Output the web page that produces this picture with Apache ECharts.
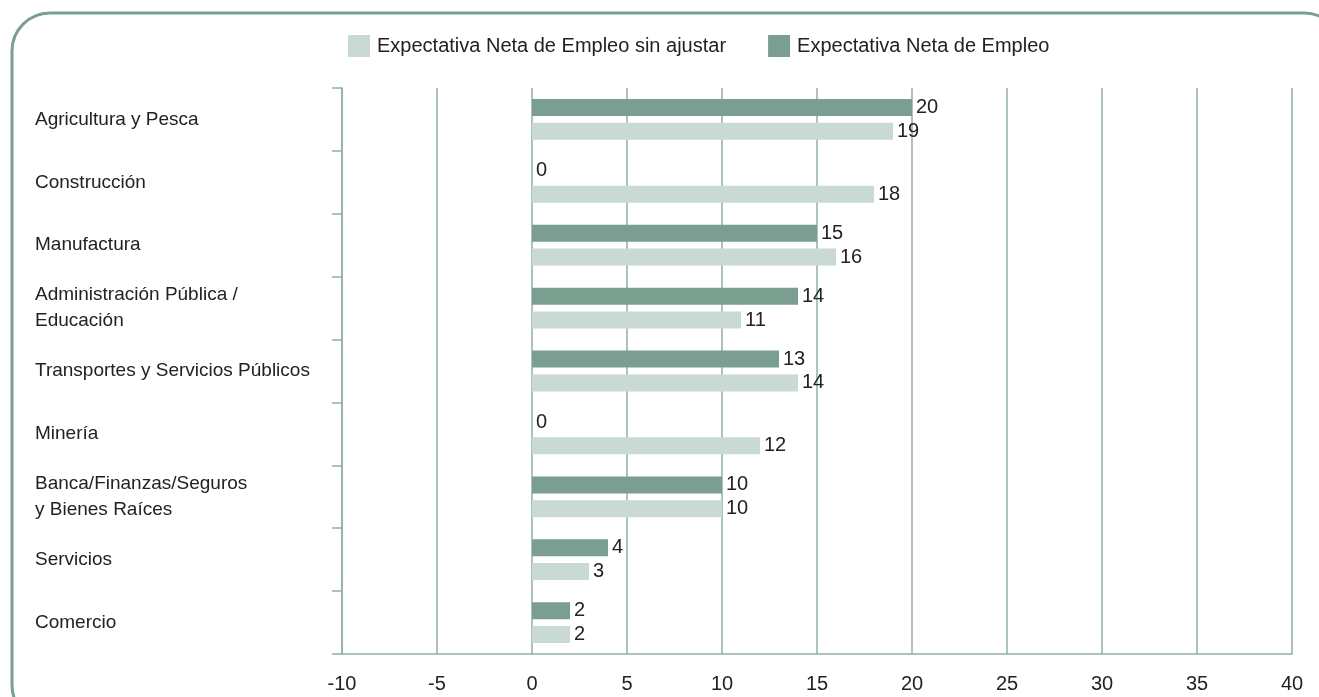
<!DOCTYPE html>
<html>
<head>
<meta charset="utf-8">
<script src="https://cdn.jsdelivr.net/npm/echarts@6/dist/echarts.min.js"></script>
<style>
  html, body { margin: 0; padding: 0; background: #fff; }
  #chart_box { width: 1319px; height: 697px; }
</style>
</head>
<body>
<div id="chart_box"></div>
<script>
// sectores (de arriba hacia abajo)
const categories = [
  "Agricultura y Pesca",
  "Construcción",
  "Manufactura",
  "Administración Pública /\nEducación",
  "Transportes y Servicios Públicos",
  "Minería",
  "Banca/Finanzas/Seguros\ny Bienes Raíces",
  "Servicios",
  "Comercio"
];
const netaEmpleo = [20, 0, 15, 14, 13, 0, 10, 4, 2];
const netaSinAjustar = [19, 18, 16, 11, 14, 12, 10, 3, 2];
const xTicks = [-10, -5, 0, 5, 10, 15, 20, 25, 30, 35, 40];

const dark = "#7a9e90";
const light = "#c9d9d3";
const gridColor = "#8fb0a4";
const fontFam = "'Liberation Sans', Arial, sans-serif";

let myChart = echarts.init(document.getElementById("chart_box"));

const option = {
  animation: false,
  textStyle: { fontFamily: fontFam },
  graphic: [
    {
      type: "rect",
      shape: { x: 12, y: 13, width: 1330, height: 710, r: 38 },
      style: { fill: "none", stroke: dark, lineWidth: 3 },
      silent: true
    }
  ],
  legend: {
    data: ["Expectativa Neta de Empleo sin ajustar", "Expectativa Neta de Empleo"],
    top: 30,
    left: 343,
    itemWidth: 22,
    itemHeight: 22,
    itemGap: 42,
    icon: "rect",
    textStyle: { fontSize: 20, color: "#222", fontFamily: fontFam, padding: [0, 0, 0, 2] }
  },
  grid: {
    left: 342,
    right: 27,
    top: 88,
    bottom: 43,
    containLabel: false
  },
  xAxis: {
    type: "value",
    min: -10,
    max: 40,
    interval: 5,
    axisLine: { show: true, onZero: false, lineStyle: { color: gridColor, width: 1.5 } },
    axisTick: { show: false },
    axisLabel: {
      fontSize: 20,
      color: "#222",
      margin: 20,
      fontFamily: fontFam,
      formatter: function (v) { return xTicks.indexOf(v) >= 0 ? String(v) : ""; }
    },
    splitLine: { show: true, lineStyle: { color: gridColor, width: 1.5 } }
  },
  yAxis: {
    type: "category",
    data: categories,
    inverse: true,
    axisLine: { show: true, onZero: false, lineStyle: { color: gridColor, width: 1.5 } },
    axisTick: { show: true, length: 10, lineStyle: { color: gridColor, width: 1.5 } },
    axisLabel: {
      align: "left",
      margin: 307,
      fontSize: 19,
      lineHeight: 26,
      color: "#222",
      fontFamily: fontFam
    }
  },
  series: [
    {
      name: "Expectativa Neta de Empleo",
      type: "bar",
      data: netaEmpleo,
      barWidth: 17,
      barGap: "40%",
      itemStyle: { color: dark },
      label: { show: true, position: "right", distance: 4, fontSize: 20, color: "#222", fontFamily: fontFam }
    },
    {
      name: "Expectativa Neta de Empleo sin ajustar",
      type: "bar",
      data: netaSinAjustar,
      barWidth: 17,
      itemStyle: { color: light },
      label: { show: true, position: "right", distance: 4, fontSize: 20, color: "#222", fontFamily: fontFam }
    }
  ]
};

myChart.setOption(option);
</script>
</body>
</html>
